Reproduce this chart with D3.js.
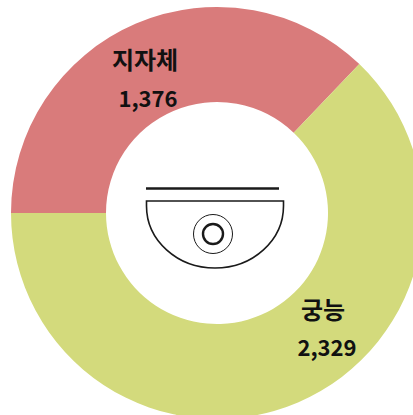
<!DOCTYPE html>
<html>
<head>
<meta charset="utf-8">
<script src="https://cdn.jsdelivr.net/npm/d3@7"></script>
<style>
html,body{margin:0;padding:0;background:#fff;overflow:hidden}
svg{display:block}
text{font-family:"Noto Sans CJK KR","Noto Sans",sans-serif;font-weight:700;fill:#111}
</style>
</head>
<body>
<svg id="chart"></svg>
<script>
var categories = ["지자체","궁능"];
var values = [1376,2329];
var colors = ["#d97b7b","#d3da7c"];

var width = 413, height = 415;
var cx = 217, cy = 213, outer = 206, inner = 111;

var svg = d3.select("#chart").attr("width",width).attr("height",height);
var g = svg.append("g").attr("transform","translate("+cx+","+cy+")");

var pie = d3.pie().sort(null).startAngle(-Math.PI/2).endAngle(Math.PI*1.5);
var arc = d3.arc().innerRadius(inner).outerRadius(outer);

g.selectAll("path.slice")
    .data(pie(values))
    .enter()
    .append("path")
    .classed("slice",true)
    .attr("d",arc)
    .attr("fill",function(d,i){return colors[i];});

// label spots, given as offsets from the centre
var labelPos = [{nameX:-72,nameY:-144,valX:-69,valY:-106},{nameX:106,nameY:106,valX:110,valY:143}];
var fmt = d3.format(",");

g.selectAll("text.name")
    .data(categories)
    .enter()
    .append("text")
    .classed("name",true)
    .attr("text-anchor","middle")
    .attr("font-size",24)
    .attr("x",function(d,i){return labelPos[i].nameX;})
    .attr("y",function(d,i){return labelPos[i].nameY;})
    .text(function(d){return d;});

g.selectAll("text.value")
    .data(values)
    .enter()
    .append("text")
    .classed("value",true)
    .attr("text-anchor","middle")
    .attr("font-size",22)
    .attr("x",function(d,i){return labelPos[i].valX;})
    .attr("y",function(d,i){return labelPos[i].valY;})
    .text(function(d){return fmt(d);});

// camera icon in the hole
var icon = svg.append("g").attr("fill","none").attr("stroke","#1a1a1a");
icon.append("line").attr("x1",146).attr("x2",279).attr("y1",188.5).attr("y2",188.5).attr("stroke-width",2.4);
icon.append("path").attr("stroke-width",1.6)
    .attr("d","M146.5,201H283.5V206A68.5,62 0 0 1 146.5,206Z");
icon.append("circle").attr("cx",213).attr("cy",234).attr("r",19.5).attr("stroke-width",1);
icon.append("circle").attr("cx",213).attr("cy",234).attr("r",10).attr("stroke-width",2.4);
</script>
</body>
</html>
